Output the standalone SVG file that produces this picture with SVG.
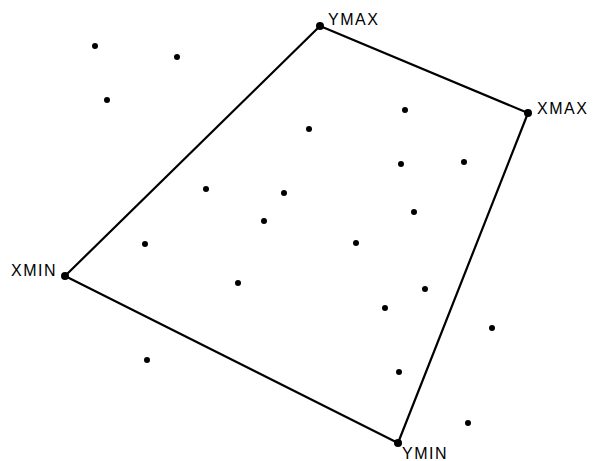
<svg xmlns="http://www.w3.org/2000/svg" width="601" height="461" viewBox="0 0 601 461">
<style>
.edge{stroke:#000;stroke-width:2.2;fill:none;stroke-linejoin:round}
.pt{fill:#000}
.lbl{font-family:"Liberation Sans",Arial,sans-serif;font-size:16px;fill:#000;letter-spacing:1.5px}
</style>
<rect width="601" height="461" fill="#fff"/>
<g id="connectors">
<polyline class="edge" points="320,26 528,113 398,443 65,276 320,26"/>
</g>
<g id="ymax"><circle class="pt" cx="320" cy="26" r="4"/><text class="lbl" x="328" y="25">YMAX</text></g>
<g id="xmax"><circle class="pt" cx="528" cy="113" r="4"/><text class="lbl" x="537" y="114">XMAX</text></g>
<g id="xmin"><circle class="pt" cx="65" cy="276" r="4"/><text class="lbl" x="11" y="276">XMIN</text></g>
<g id="ymin"><circle class="pt" cx="398" cy="443" r="4"/><text class="lbl" x="402" y="459">YMIN</text></g>
<g id="points">
<circle class="pt" cx="95" cy="46" r="3"/>
<circle class="pt" cx="177" cy="57" r="3"/>
<circle class="pt" cx="107" cy="100" r="3"/>
<circle class="pt" cx="405" cy="110" r="3"/>
<circle class="pt" cx="309" cy="129" r="3"/>
<circle class="pt" cx="401" cy="164" r="3"/>
<circle class="pt" cx="464" cy="162" r="3"/>
<circle class="pt" cx="206" cy="189" r="3"/>
<circle class="pt" cx="284" cy="193" r="3"/>
<circle class="pt" cx="414" cy="212" r="3"/>
<circle class="pt" cx="264" cy="221" r="3"/>
<circle class="pt" cx="145" cy="244" r="3"/>
<circle class="pt" cx="356" cy="243" r="3"/>
<circle class="pt" cx="238" cy="283" r="3"/>
<circle class="pt" cx="425" cy="289" r="3"/>
<circle class="pt" cx="385" cy="308" r="3"/>
<circle class="pt" cx="492" cy="328" r="3"/>
<circle class="pt" cx="147" cy="360" r="3"/>
<circle class="pt" cx="399" cy="372" r="3"/>
<circle class="pt" cx="468" cy="423" r="3"/>
</g>
</svg>
